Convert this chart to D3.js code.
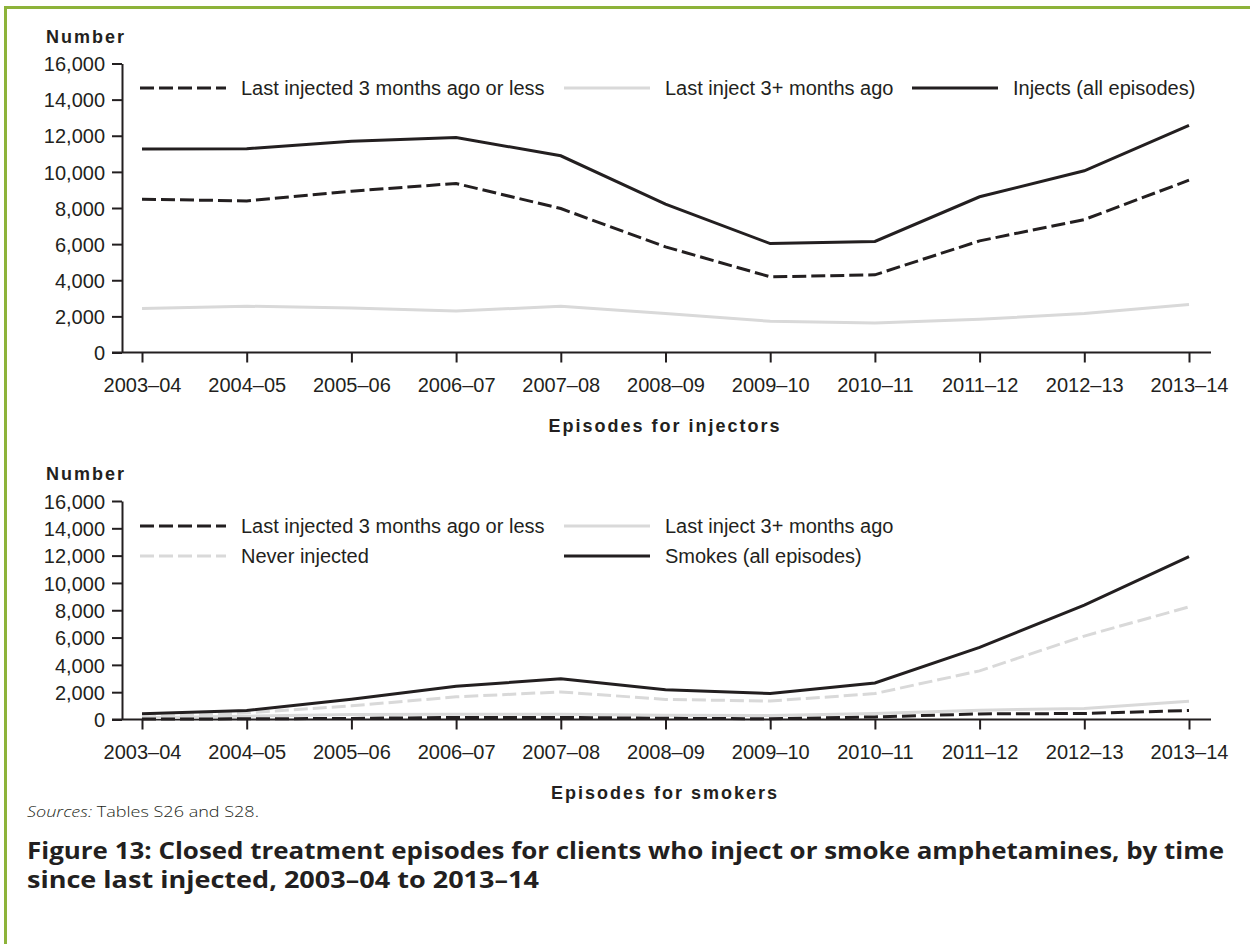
<!DOCTYPE html>
<html>
<head>
<meta charset="utf-8">
<script src="https://cdn.jsdelivr.net/npm/d3@7"></script>
<style>
  html, body { margin: 0; padding: 0; background: #fff; }
  svg { display: block; }
  .tick text { font-family: "Liberation Sans", Arial, sans-serif; font-size: 20px; fill: #231f20; }
</style>
</head>
<body>
<svg id="chart" width="1250" height="944"></svg>
<script>
// ---------- data ----------
const categories = ["2003–04","2004–05","2005–06","2006–07","2007–08","2008–09","2009–10","2010–11","2011–12","2012–13","2013–14"];
const yTicks = [0, 2000, 4000, 6000, 8000, 10000, 12000, 14000, 16000];

// Episodes for injectors
const injLast3     = [8490, 8390, 8930, 9360, 7970, 5850, 4190, 4300, 6180, 7360, 9540];
const injLast3plus = [2440, 2560, 2470, 2300, 2560, 2160, 1730, 1640, 1840, 2160, 2660];
const injAll       = [11260, 11280, 11700, 11900, 10890, 8210, 6030, 6150, 8620, 10060, 12580];

// Episodes for smokers
const smkLast3     = [30, 50, 80, 150, 150, 90, 50, 190, 410, 440, 660];
const smkLast3plus = [120, 240, 360, 390, 390, 310, 300, 440, 680, 810, 1340];
const smkNever     = [170, 490, 1000, 1660, 2020, 1470, 1350, 1900, 3560, 6110, 8250];
const smkAll       = [420, 660, 1480, 2440, 2980, 2180, 1900, 2680, 5280, 8380, 11920];

const legendTop = ["Last injected 3 months ago or less", "Last inject 3+ months ago", "Injects (all episodes)"];
const legendBottom = ["Last injected 3 months ago or less", "Last inject 3+ months ago", "Never injected", "Smokes (all episodes)"];

// ---------- styles ----------
const BLACK = "#231f20", GRAY = "#d9d9d9", GREEN = "#8db33a";
const FONT = '"Liberation Sans", Arial, sans-serif';
const styles = {
  blackDash: { stroke: BLACK, dash: "14,5" },
  gray:      { stroke: GRAY,  dash: null },
  grayDash:  { stroke: GRAY,  dash: "14,5" },
  black:     { stroke: BLACK, dash: null }
};

const svg = d3.select("#chart");

// frame
svg.append("line").attr("x1", 4).attr("x2", 1250).attr("y1", 7.5).attr("y2", 7.5)
  .attr("stroke", GREEN).attr("stroke-width", 3);
svg.append("line").attr("x1", 5.5).attr("x2", 5.5).attr("y1", 6).attr("y2", 944)
  .attr("stroke", GREEN).attr("stroke-width", 3);

function panel(cfg) {
  const x = d3.scalePoint().domain(categories).range([142, 1189]);
  const y = d3.scaleLinear().domain([0, 16000]).range([cfg.y0, cfg.y1]);
  const g = svg.append("g");

  // y axis
  const ya = g.append("g").attr("transform", "translate(122,0)")
    .call(d3.axisLeft(y).tickValues(yTicks).tickFormat(d3.format(",")).tickSize(10).tickSizeOuter(0).tickPadding(7));
  ya.select(".domain").attr("stroke", BLACK).attr("stroke-width", 2);
  ya.selectAll(".tick line").attr("stroke", BLACK).attr("stroke-width", 2);
  ya.selectAll(".tick text").attr("dy", "0.36em");

  // x axis
  const xa = g.append("g").attr("transform", `translate(0,${cfg.y0})`)
    .call(d3.axisBottom(x).tickSize(10).tickSizeOuter(0).tickPadding(15));
  xa.select(".domain").attr("d", `M112,0H1211`).attr("stroke", BLACK).attr("stroke-width", 2);
  xa.selectAll(".tick line").attr("stroke", BLACK).attr("stroke-width", 2);

  // "Number"
  g.append("text").attr("x", 46).attr("y", cfg.y1 - 21)
    .attr("font-family", FONT).attr("font-weight", "bold").attr("font-size", 18)
    .attr("letter-spacing", 2).attr("fill", BLACK).text("Number");

  // x title
  g.append("text").attr("x", 665).attr("y", cfg.y0 + 79).attr("text-anchor", "middle")
    .attr("font-family", FONT).attr("font-weight", "bold").attr("font-size", 18)
    .attr("letter-spacing", 2).attr("fill", BLACK).text(cfg.title);

  // lines
  const line = d3.line().x((d, i) => x(categories[i])).y(d => y(d));
  cfg.series.forEach(s => {
    const st = styles[s.style];
    g.append("path").datum(s.values).attr("d", line)
      .attr("fill", "none").attr("stroke", st.stroke).attr("stroke-width", 3)
      .attr("stroke-linejoin", "miter")
      .attr("stroke-dasharray", st.dash);
  });

  // legend
  cfg.legend.forEach(l => {
    const st = styles[l.style];
    g.append("line").attr("x1", l.x).attr("x2", l.x + 86).attr("y1", l.y).attr("y2", l.y)
      .attr("stroke", st.stroke).attr("stroke-width", 3).attr("stroke-dasharray", st.dash);
    g.append("text").attr("x", l.x + 101).attr("y", l.y).attr("dy", "0.35em")
      .attr("font-family", FONT).attr("font-size", 20).attr("fill", BLACK).text(l.label);
  });
}

panel({
  y0: 352.5, y1: 63.5, title: "Episodes for injectors",
  series: [
    { values: injLast3plus, style: "gray" },
    { values: injLast3, style: "blackDash" },
    { values: injAll, style: "black" }
  ],
  legend: [
    { x: 140, y: 88, label: legendTop[0], style: "blackDash" },
    { x: 564, y: 88, label: legendTop[1], style: "gray" },
    { x: 912, y: 88, label: legendTop[2], style: "black" }
  ]
});

panel({
  y0: 719.5, y1: 501, title: "Episodes for smokers",
  series: [
    { values: smkNever, style: "grayDash" },
    { values: smkLast3plus, style: "gray" },
    { values: smkLast3, style: "blackDash" },
    { values: smkAll, style: "black" }
  ],
  legend: [
    { x: 140, y: 526, label: legendBottom[0], style: "blackDash" },
    { x: 564, y: 526, label: legendBottom[1], style: "gray" },
    { x: 140, y: 556, label: legendBottom[2], style: "grayDash" },
    { x: 564, y: 556, label: legendBottom[3], style: "black" }
  ]
});

// source note
const src = svg.append("text").attr("x", 27).attr("y", 817)
  .attr("font-family", '"Open Sans", sans-serif').attr("font-weight", 300).attr("font-size", 15)
  .attr("fill", BLACK).attr("textLength", 232).attr("lengthAdjust", "spacingAndGlyphs");
src.append("tspan").attr("font-style", "italic").text("Sources:");
src.append("tspan").text(" Tables S26 and S28.");

// figure title
svg.append("text").attr("x", 27).attr("y", 859)
  .attr("font-family", '"Open Sans", sans-serif').attr("font-weight", "bold").attr("font-size", 23)
  .attr("fill", BLACK).attr("textLength", 1197).attr("lengthAdjust", "spacingAndGlyphs")
  .text("Figure 13: Closed treatment episodes for clients who inject or smoke amphetamines, by time");
svg.append("text").attr("x", 27).attr("y", 888)
  .attr("font-family", '"Open Sans", sans-serif').attr("font-weight", "bold").attr("font-size", 23)
  .attr("fill", BLACK).attr("textLength", 512).attr("lengthAdjust", "spacingAndGlyphs")
  .text("since last injected, 2003–04 to 2013–14");
</script>
</body>
</html>
